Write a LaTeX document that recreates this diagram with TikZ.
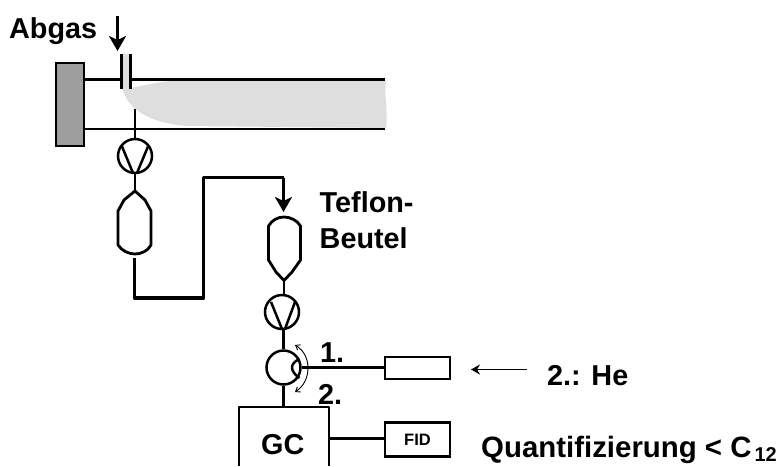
\documentclass[tikz,border=0pt]{standalone}
\usepackage{fontspec}
\setmainfont{Liberation Sans}
\usetikzlibrary{arrows.meta,calc}
\tikzset{
  x=1pt,y=-1pt,
  pipe/.style={line width=2.5pt,line join=round},
  thick pipe/.style={line width=3.8pt,line join=round},
  equip/.style={draw,line width=2.5pt,inner sep=0pt,minimum width=65pt,fill=white},
  pumpc/.style={draw,circle,line width=2.5pt,inner sep=0pt,minimum size=34pt},
  lab/.style={font=\bfseries\fontsize{28.8}{32}\selectfont,inner sep=0pt,anchor=base west,text=black},
  bagline/.style={line width=2.8pt,line join=round},
  big arrow/.style={-{Stealth[length=15pt,width=17pt,inset=4pt]},line width=2.8pt},
}
\begin{document}
\begin{tikzpicture}
\useasboundingbox (0,0) rectangle (783,466);
% plume
\fill[black!13] (122,54) -- (130,54) -- (130,88) .. controls (142,86) and (155,82.5) .. (170,81) -- (386,81)
  .. controls (384,95) and (388,110) .. (386,128) -- (187,126) .. controls (160,124) and (130,115) .. (123,90) -- cycle;
% carrier box
\node[draw,line width=2.5pt,fill=black!38,minimum width=28pt,minimum height=83pt,inner sep=0pt] (blk) at (70,104.5) {};
% tube
\coordinate (t1) at (121,79.5); \coordinate (t2) at (130.5,79.5); \coordinate (te) at (385,79.5);
\coordinate (be) at (385,129);
\draw[pipe] (blk.east |- t1) -- (t1);
\draw[pipe] (t2) -- (te);
\draw[pipe] (blk.east |- be) -- (be);
\draw[pipe] (121.5,54) -- (121.5,89);
\draw[pipe] (130.5,54) -- (130.5,89);
% abgas
\node[lab] (abgas) at (9,38) {Abgas};
\coordinate (a1) at (117.5,16); \coordinate (a2) at (117.5,51);
\draw[big arrow] (a1) -- (a2);
% pump 1
\node[pumpc] (p1) at (135,156) {};
\coordinate (probe) at (135,109);
\draw[pipe] (probe) -- (p1.north);
\draw[pipe] (122,146.5) -- (133,173) (148,146.5) -- (137,173);
% bag 1
\coordinate (b1top) at (135,191);
\coordinate (b1bot) at (134.5,258);
\draw[bagline] (b1top) -- (124,200) -- (118,211) -- (118,245) .. controls (122,251) and (129,254) .. (135,254) .. controls (141,254) and (148,251) .. (151,245) -- (151,211) -- (145,200) -- cycle;
\draw[pipe] (p1.south) -- (b1top);
% thick line
\coordinate (ttop) at (283.5,177.5);
\coordinate (b2arrow) at (283.5,212);
\draw[thick pipe] (b1bot) -- (134.5,298) -- (203.5,298) -- (203.5,177.5) -- (ttop);
\draw[big arrow] (ttop) -- (b2arrow);
% bag 2
\coordinate (b2top) at (284,217);
\coordinate (b2bot) at (284,280.5);
\draw[bagline] (b2bot) -- (276,272) -- (268.5,260) -- (268.5,226) .. controls (272,220) and (278,217) .. (b2top) .. controls (290,217) and (297,220) .. (300.5,226) -- (300.5,260) -- (292,272) -- cycle;
% pump 2
\node[pumpc] (p2) at (282,312) {};
\draw[pipe] (b2bot) -- (p2.north -| b2bot);
\draw[pipe] (271,302) -- (282,329) (295,302) -- (285,329);
% valve
\node[pumpc] (v) at (283.5,367.5) {};
\draw[pipe] (p2.south -| v.north) -- (v.north);
\draw[pipe] (299.5,359) .. controls (295,361) and (292,364) .. (292,367.5) .. controls (292,371) and (295,375) .. (299.5,378);
\draw[line width=.9pt,{Straight Barb[length=4pt,width=6pt]}-{Straight Barb[length=4pt,width=6pt]}] (295,345) .. controls (312,355) and (312,381) .. (295,392);
% right boxes
\node[equip,minimum height=22pt] (sorb) at (417.5,368) {};
\draw[pipe] (v.east) -- (sorb.west |- v.east);
\node[equip,minimum height=34pt,font=\bfseries\fontsize{16.5}{18}\selectfont] (fid) at (417.5,439.5) {FID};
% GC (open bottom)
\node[lab] (gc) at (261,454) {GC};
\draw[pipe] (239,466) -- (239,407) -- (329,407) -- (329,466);
\coordinate (gctop) at (283.5,407);
\draw[pipe] (v.south) -- (gctop);
\draw[pipe] (329,438.5) -- (fid.west |- 0,438.5);
% He arrow
\coordinate (h1) at (527,369.5); \coordinate (h2) at (471,369.5);
\draw[line width=1.6pt,-{Stealth[length=9pt,width=10pt,inset=3pt]}] (h1) -- (h2);
% labels
\node[lab] (tef) at (319.5,212) {Teflon-};
\node[lab] (beu) at (319.5,248) {Beutel};
\node[lab] (one) at (320,362.5) {1.};
\node[lab] (two) at (318,404) {2.};
\node[lab] (he) at (547,385) {2.: He};
\node[lab,font=\bfseries\fontsize{29.4}{32}\selectfont] (q) at (481,457) {Quantifizierung < C\hspace{3pt}\raisebox{-4.5pt}{\fontsize{20}{22}\selectfont 12}};
\end{tikzpicture}
\end{document}
